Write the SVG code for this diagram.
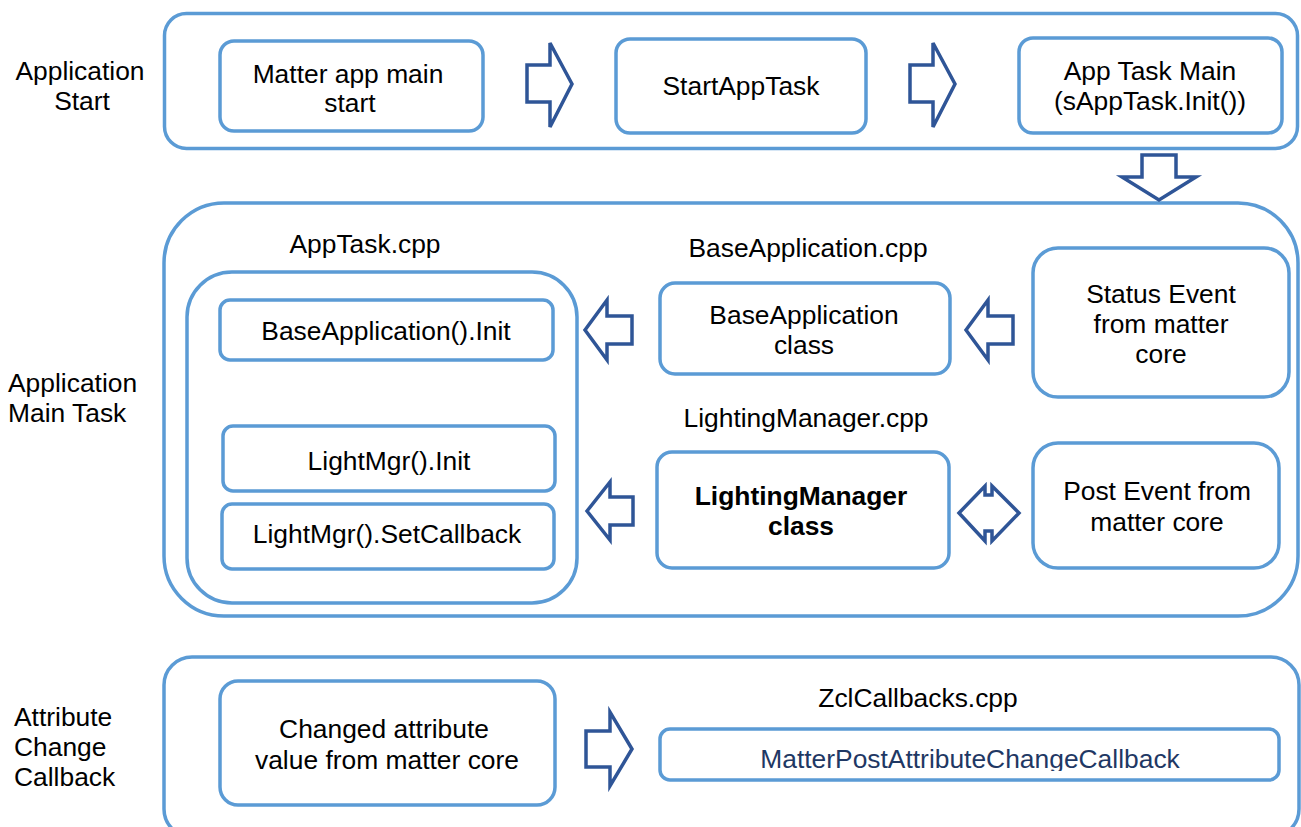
<svg xmlns="http://www.w3.org/2000/svg" width="1301" height="827" viewBox="0 0 1301 827">
<defs>
<style>
.cont{fill:none;stroke:#5B9BD5;stroke-width:3.5}
.box{fill:#fff;stroke:#5B9BD5;stroke-width:3.5}
.arr{fill:#fff;stroke:#2F5597;stroke-width:3.5;stroke-linejoin:miter}
text{font-family:"Liberation Sans",Arial,sans-serif;font-size:26.4px;fill:#000}
.c{text-anchor:middle}
.b{font-weight:bold}
.navy{fill:#1F3864}
</style>
<clipPath id="clipMP"><rect x="660" y="729" width="619" height="42"/></clipPath>
</defs>
<rect width="1301" height="827" fill="#fff"/>

<g id="labels">
<text class="c" x="80" y="80">Application</text>
<text class="c" x="82" y="110">Start</text>
<text x="8" y="392">Application</text>
<text x="8" y="422">Main Task</text>
<text x="14" y="726">Attribute</text>
<text x="14" y="756">Change</text>
<text x="14" y="786">Callback</text>
</g>

<g id="containers">
<rect id="startContainer" class="cont" x="164.5" y="13.5" width="1133" height="135" rx="22"/>
<rect id="mainContainer" class="cont" x="164" y="203" width="1134" height="413" rx="60"/>
<rect id="appTaskContainer" class="cont" x="187" y="272" width="390" height="331" rx="45"/>
<rect id="attrContainer" class="cont" x="164" y="657" width="1135" height="180" rx="28"/>
</g>

<g id="n-matter-app-main">
<rect class="box" x="220" y="41" width="263" height="90" rx="14"/>
<text class="c" x="348" y="83">Matter app main</text>
<text class="c" x="350" y="112">start</text>
</g>
<g id="n-start-app-task">
<rect class="box" x="616" y="39" width="250" height="94" rx="14"/>
<text class="c" x="741" y="95">StartAppTask</text>
</g>
<g id="n-app-task-main">
<rect class="box" x="1019" y="38" width="263" height="95" rx="14"/>
<text class="c" x="1150" y="80">App Task Main</text>
<text class="c" x="1150" y="110">(sAppTask.Init())</text>
</g>

<g id="n-apptask-label"><text class="c" x="365" y="253">AppTask.cpp</text></g>
<g id="n-base-init">
<rect class="box" x="220" y="300" width="333" height="60" rx="10"/>
<text class="c" x="386" y="340">BaseApplication().Init</text>
</g>
<g id="n-light-init">
<rect class="box" x="223" y="426" width="332" height="65" rx="10"/>
<text class="c" x="389" y="470">LightMgr().Init</text>
</g>
<g id="n-light-setcb">
<rect class="box" x="222" y="504" width="332" height="65" rx="10"/>
<text class="c" x="387" y="543">LightMgr().SetCallback</text>
</g>

<g id="n-baseapp-label"><text class="c" x="808" y="257">BaseApplication.cpp</text></g>
<g id="n-baseapp-class">
<rect class="box" x="660" y="283" width="290" height="91" rx="15"/>
<text class="c" x="804" y="324">BaseApplication</text>
<text class="c" x="804" y="354">class</text>
</g>
<g id="n-status-event">
<rect class="box" x="1033" y="248" width="256" height="149" rx="25"/>
<text class="c" x="1161" y="303">Status Event</text>
<text class="c" x="1161" y="333">from matter</text>
<text class="c" x="1161" y="363">core</text>
</g>
<g id="n-lighting-label"><text class="c" x="806" y="427">LightingManager.cpp</text></g>
<g id="n-lighting-class">
<rect class="box" x="657" y="452" width="292" height="116" rx="15"/>
<text class="c b" x="801" y="505">LightingManager</text>
<text class="c b" x="801" y="535">class</text>
</g>
<g id="n-post-event">
<rect class="box" x="1033" y="443" width="246" height="125" rx="25"/>
<text class="c" x="1157" y="500">Post Event from</text>
<text class="c" x="1157" y="531">matter core</text>
</g>

<g id="n-changed-attr">
<rect class="box" x="220" y="681" width="335" height="124" rx="18"/>
<text class="c" x="384" y="738">Changed attribute</text>
<text class="c" x="387" y="769">value from matter core</text>
</g>
<g id="n-zcl-label"><text class="c" x="918" y="707">ZclCallbacks.cpp</text></g>
<g id="n-matter-post">
<rect class="box" x="660" y="729" width="619" height="51" rx="10"/>
<text class="c navy" x="970" y="768" clip-path="url(#clipMP)">MatterPostAttributeChangeCallback</text>
</g>

<g id="connectors">
<polygon class="arr" points="527,65 550,65 550,43 572,84 550,127 550,102 527,102"/>
<polygon class="arr" points="910,65 933,65 933,43 955,84 933,127 933,102 910,102"/>
<polygon class="arr" points="1142,155 1176,155 1176,177 1196,177 1159,200 1122,177 1142,177"/>
<polygon class="arr" points="585,330 607,300 607,316 632,316 632,344 607,344 607,360"/>
<polygon class="arr" points="966,330 988,300 988,316 1013,316 1013,344 988,344 988,360"/>
<polygon class="arr" points="587,511 610,482 610,497 633,497 633,525 610,525 610,540"/>
<polygon class="arr" points="959,513 985,486 985,495 992,495 992,486 1019,513 992,541 992,531 985,531 985,541"/>
<polygon class="arr" points="586,731 610,731 610,712 632,749 610,786 610,767 586,767"/>
</g>
</svg>
